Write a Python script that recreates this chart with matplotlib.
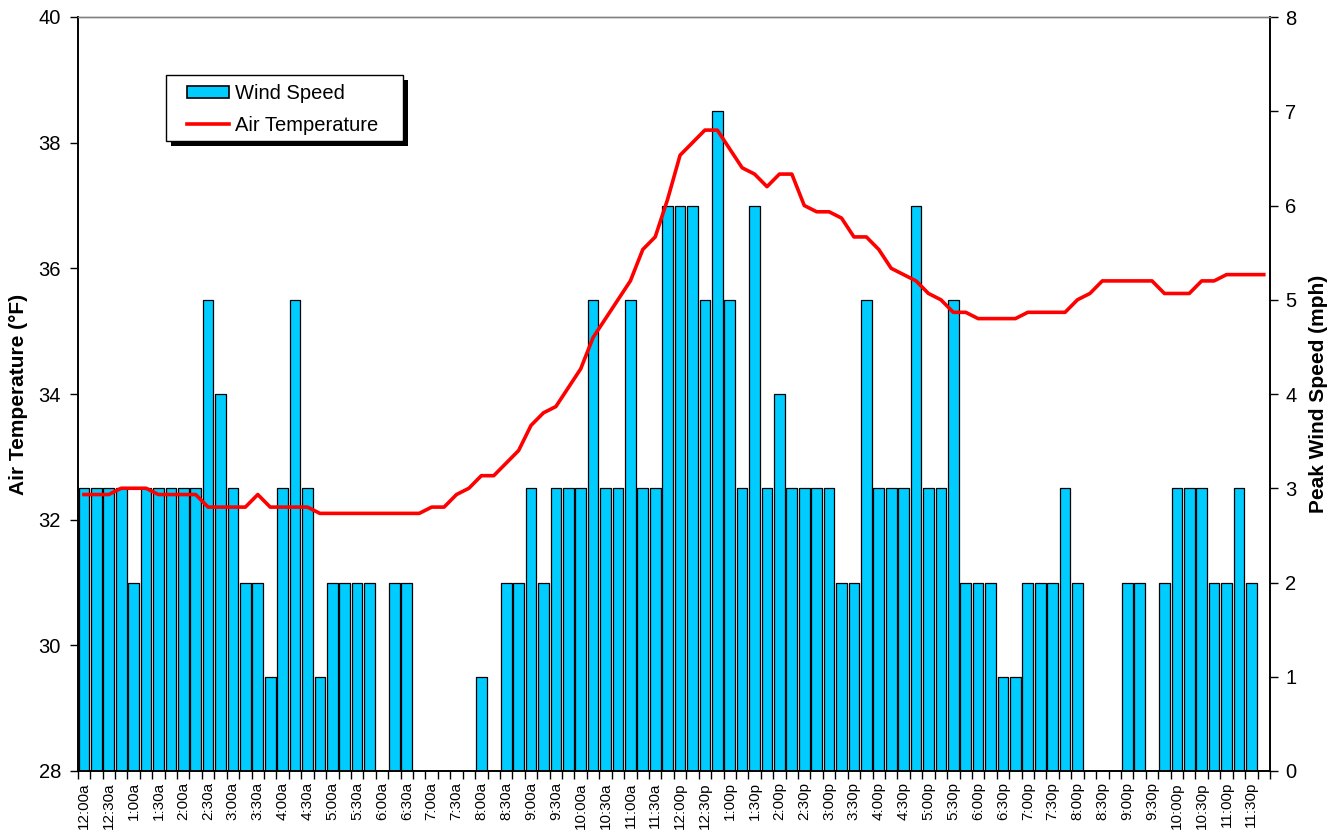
import numpy as np
import matplotlib
matplotlib.use('Agg')
import matplotlib.pyplot as plt
from matplotlib.patches import Rectangle, Patch
from matplotlib.lines import Line2D
from matplotlib.transforms import IdentityTransform

plt.rcParams['font.family'] = ['Liberation Sans', 'DejaVu Sans']

# ---- data -------------------------------------------------------------
time_labels = [
    "12:00a", "12:30a", "1:00a", "1:30a", "2:00a", "2:30a", "3:00a", "3:30a",
    "4:00a", "4:30a", "5:00a", "5:30a", "6:00a", "6:30a", "7:00a", "7:30a",
    "8:00a", "8:30a", "9:00a", "9:30a", "10:00a", "10:30a", "11:00a", "11:30a",
    "12:00p", "12:30p", "1:00p", "1:30p", "2:00p", "2:30p", "3:00p", "3:30p",
    "4:00p", "4:30p", "5:00p", "5:30p", "6:00p", "6:30p", "7:00p", "7:30p",
    "8:00p", "8:30p", "9:00p", "9:30p", "10:00p", "10:30p", "11:00p", "11:30p",
]

# peak wind speed (mph), every 15 minutes
wind_speed = [
    3, 3, 3, 3, 2, 3, 3, 3, 3, 3,
    5, 4, 3, 2, 2, 1, 3, 5, 3, 1,
    2, 2, 2, 2, 0, 2, 2, 0, 0, 0,
    0, 0, 1, 0, 2, 2, 3, 2, 3, 3,
    3, 5, 3, 3, 5, 3, 3, 6, 6, 6,
    5, 7, 5, 3, 6, 3, 4, 3, 3, 3,
    3, 2, 2, 5, 3, 3, 3, 6, 3, 3,
    5, 2, 2, 2, 1, 1, 2, 2, 2, 3,
    2, 0, 0, 0, 2, 2, 0, 2, 3, 3,
    3, 2, 2, 3, 2, 0,
]

# air temperature (F), every 15 minutes
air_temp = [
    32.4, 32.4, 32.4, 32.5, 32.5, 32.5, 32.4, 32.4, 32.4, 32.4,
    32.2, 32.2, 32.2, 32.2, 32.4, 32.2, 32.2, 32.2, 32.2, 32.1,
    32.1, 32.1, 32.1, 32.1, 32.1, 32.1, 32.1, 32.1, 32.2, 32.2,
    32.4, 32.5, 32.7, 32.7, 32.9, 33.1, 33.5, 33.7, 33.8, 34.1,
    34.4, 34.9, 35.2, 35.5, 35.8, 36.3, 36.5, 37.1, 37.8, 38.0,
    38.2, 38.2, 37.9, 37.6, 37.5, 37.3, 37.5, 37.5, 37.0, 36.9,
    36.9, 36.8, 36.5, 36.5, 36.3, 36.0, 35.9, 35.8, 35.6, 35.5,
    35.3, 35.3, 35.2, 35.2, 35.2, 35.2, 35.3, 35.3, 35.3, 35.3,
    35.5, 35.6, 35.8, 35.8, 35.8, 35.8, 35.8, 35.6, 35.6, 35.6,
    35.8, 35.8, 35.9, 35.9, 35.9, 35.9,
]

temp_ticks = [28, 30, 32, 34, 36, 38, 40]
wind_ticks = [0, 1, 2, 3, 4, 5, 6, 7, 8]

# ---- figure -------------------------------------------------------------
W, H = 1343, 834
fig = plt.figure(figsize=(W / 100, H / 100), dpi=100)
ax = fig.add_axes([77.7 / W, 63 / H, 1192.3 / W, 754 / H])
ax2 = ax.twinx()

x = np.arange(len(wind_speed))
ax2.bar(x, wind_speed, width=0.86, color='#00CCFF', edgecolor='black',
        linewidth=0.9, zorder=2)
ax.plot(x, air_temp, color='#FF0000', lw=2.6, zorder=3)

ax.set_zorder(ax2.get_zorder() + 1)
ax.patch.set_visible(False)

ax.set_xlim(-0.5, len(wind_speed) - 0.5)
ax.set_ylim(28, 40)
ax2.set_ylim(0, 8)
ax.set_yticks(temp_ticks)
ax2.set_yticks(wind_ticks)

ax.set_xticks(x[::2])
ax.set_xticklabels(time_labels, rotation=90, fontsize=11)
ax.set_xticks(np.arange(-0.5, len(wind_speed), 1), minor=True)
ax.tick_params(axis='x', which='major', length=0, pad=8)
ax.tick_params(axis='x', which='minor', length=6, width=1, color='black')
ax.tick_params(axis='y', which='major', length=6, width=1, labelsize=14.5, pad=6)
ax2.tick_params(axis='y', which='major', length=6, width=1, labelsize=14.5, pad=5)

for a in (ax, ax2):
    for s in ('left', 'right', 'bottom'):
        a.spines[s].set_color('black')
        a.spines[s].set_linewidth(1.2)
    a.spines['top'].set_color('#808080')
    a.spines['top'].set_linewidth(1.0)

ax.set_ylabel('Air Temperature (°F)', fontsize=15, fontweight='bold')
ax.yaxis.set_label_coords((28 - 77.7) / 1192.3, 0.5)
ax2.set_ylabel('Peak Wind Speed (mph)', fontsize=15, fontweight='bold')
ax2.yaxis.set_label_coords((1309 - 77.7) / 1192.3, 0.5)

# ---- legend (frame drawn separately to match the boxed/shadowed look) --
handles = [Patch(facecolor='#00CCFF', edgecolor='black', linewidth=1.2),
           Line2D([], [], color='#FF0000', lw=2.6)]
leg = ax.legend(handles, ['Wind Speed', 'Air Temperature'],
                loc='upper left',
                bbox_to_anchor=((187 - 77.7) / 1192.3, (771 - 84) / 754),
                borderaxespad=0, borderpad=0, fontsize=14.5, frameon=False,
                handlelength=2.1, handleheight=0.6, handletextpad=0.3,
                labelspacing=0.65)
leg.set_zorder(10)

bx0, bx1, by0, by1 = 165.7, 403.3, 75, 141
shadow = Rectangle((bx0 + 5, H - by1 - 5), bx1 - bx0, by1 - by0,
                   transform=IdentityTransform(), facecolor='black',
                   edgecolor='none', zorder=8, clip_on=False)
frame = Rectangle((bx0, H - by1), bx1 - bx0, by1 - by0,
                  transform=IdentityTransform(), facecolor='white',
                  edgecolor='black', linewidth=1.0, zorder=9, clip_on=False)
ax.add_artist(shadow)
ax.add_artist(frame)

fig.savefig('out.png', dpi=100)
